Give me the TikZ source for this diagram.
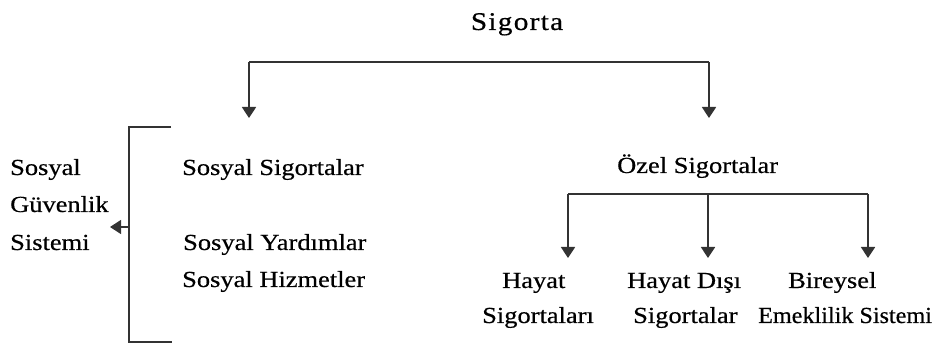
\documentclass[tikz,border=0pt]{standalone}
\usepackage{fontspec}
\setmainfont[FakeStretch=1.15,FakeBold=0.5]{Liberation Serif}
\newfontfamily\narrowserif[FakeStretch=1.05,FakeBold=0.5]{Liberation Serif}
\usetikzlibrary{arrows.meta}
\begin{document}
\begin{tikzpicture}[x=1pt,y=-1pt,
  lbl/.style={inner sep=0pt,anchor=base west,font=\fontsize{23}{26}\selectfont,text=black},
  conn/.style={line width=1.8pt,draw=black!80},
  arr/.style={conn,-{Triangle[width=14pt,length=11pt]}}]
\useasboundingbox (0,0) rectangle (936,344);
% title
\node[inner sep=0pt,anchor=base,font=\fontsize{25.5}{28}\selectfont\addfontfeature{LetterSpace=5}] (sig) at (517,30) {Sigorta};
% left group
\node[lbl] (sos) at (10,175) {Sosyal};
\node[lbl] (guv) at (10,212) {Güvenlik};
\node[lbl] (sis) at (10,250) {Sistemi};
\node[lbl] (ss) at (182,175) {Sosyal Sigortalar};
\node[lbl] (sy) at (183,250) {Sosyal Yardımlar};
\node[lbl] (sh) at (182,287) {Sosyal Hizmetler};
% right group
\node[lbl] (oz) at (617,173) {Özel Sigortalar};
\node[lbl] (h1) at (502,288) {Hayat};
\node[lbl] (h2) at (482,323) {Sigortaları};
\node[lbl] (hd1) at (627,288) {Hayat Dışı};
\node[lbl] (hd2) at (633,323) {Sigortalar};
\node[lbl] (b1) at (788,288) {Bireysel};
\node[lbl,font=\narrowserif\fontsize{23}{26}\selectfont] (b2) at (758,323) {Emeklilik Sistemi};
% coordinates
\coordinate (tl) at (249,62);
\coordinate (tr) at (709,62);
\coordinate (tlend) at (249,118);
\coordinate (trend) at (709,118);
\coordinate (bt) at (171,127);
\coordinate (bb) at (172,342);
\coordinate (bm) at (129,227);
\coordinate (btip) at (110,227);
\coordinate (rl) at (568,194);
\coordinate (rm) at (708,194);
\coordinate (rr) at (868,194);
\coordinate (rlend) at (568,258);
\coordinate (rmend) at (708,258);
\coordinate (rrend) at (868,258);
% top tree
\draw[conn] (tl) -- (tr);
\draw[arr] (tl) -- (tlend);
\draw[arr] (tr) -- (trend);
% bracket
\draw[conn] (bt) -- (129,127) -- (129,342) -- (bb);
\draw[arr,line width=1.2pt] (bm) -- (btip);
% right tree
\draw[conn] (rl) -- (rr);
\draw[arr] (rl) -- (rlend);
\draw[arr] (rm) -- (rmend);
\draw[arr] (rr) -- (rrend);
\end{tikzpicture}
\end{document}
